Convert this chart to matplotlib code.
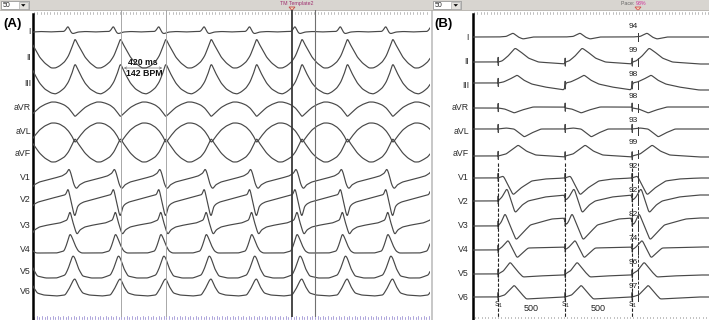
import numpy as np
import matplotlib
matplotlib.use('Agg')
import matplotlib.pyplot as plt
from matplotlib.patches import Rectangle, Polygon

plt.rcParams['font.family'] = ['Liberation Sans', 'DejaVu Sans']

# ---------------- data ----------------
leads = ['I', 'II', 'III', 'aVR', 'aVL', 'aVF', 'V1', 'V2', 'V3', 'V4', 'V5', 'V6']

# Panel A: VT, cycle length 420 ms (142 BPM); beat template times (ms from lead-II peak), amplitudes
cycle_A = 420
first_peak_A = 388
tA_I = [0, 30, 100, 180, 260, 320, 340, 355, 372, 392, 410]
aA_I = [-1, 0, 0.5, 0, 0.5, 0.5, 3, 6.5, 2, -1.5, -1.5]
tA_II = [0, 20, 46, 92, 140, 200, 240, 277, 323, 360, 397]
aA_II = [20, 15, 10, 1, -5, -10, -10, -8, -4, 2, 12]
tA_III = [0, 20, 46, 92, 140, 200, 240, 277, 323, 360, 397]
aA_III = [20, 15, 9, 0, -6, -10, -11, -9, -5, 1, 11]
tA_aVR = [0, 20, 46, 92, 140, 200, 240, 277, 323, 360, 397]
aA_aVR = [-10, -7.5, -5, -0.5, 2.5, 5, 5, 4, 2, -1, -6]
tA_aVL = [0, 20, 46, 92, 140, 200, 240, 277, 323, 360, 397]
aA_aVL = [-12, -9, -5, 1, 5, 8, 8, 7, 4, 0, -6]
tA_aVF = [0, 20, 46, 92, 140, 200, 240, 277, 323, 360, 397]
aA_aVF = [16, 12, 8, 1, -4, -8, -8, -6, -3, 2, 10]
tA_V1 = [0, 15, 40, 90, 200, 300, 345, 365, 385, 405]
aA_V1 = [-10, -12, -8, -5, -2, 1, 4, 9, 3, -6]
tA_V2 = [0, 20, 45, 80, 150, 250, 325, 340, 355, 385, 405]
aA_V2 = [-18, -7, -4, -2, 0, 3, 5, 6, 13, -2, -12]
tA_V3 = [0, 18, 45, 90, 170, 280, 350, 374, 395]
aA_V3 = [-4, -10, -5, -2, 0, 2, 5, 15, 5]
tA_V4 = [0, 30, 60, 150, 250, 320, 345, 374, 400]
aA_V4 = [4, -2, -4, -4, -4, -2, 5, 16, 10]
tA_V5 = [0, 30, 70, 150, 250, 330, 360, 400]
aA_V5 = [14, 4, -4, -6, -6, -3, 4, 17]
tA_V6 = [0, 30, 70, 130, 250, 330, 370, 400]
aA_V6 = [14, 6, -1, -3, -4, -3, 4, 11]

# Panel B: paced beats, S1 = 500 ms
spikes_B = [187, 687, 1187]
tB_I = [0, 60, 112, 150, 186, 260, 500]
aB_I = [0, 0.5, 4, 0, -2, 0, 0]
tB_II = [0, 30, 75, 127, 170, 225, 300, 400, 500]
aB_II = [0, 1, 6, 14, 10, 4, 0, -1, -2]
tB_III = [0, 40, 90, 142, 190, 250, 350, 500]
aB_III = [2, 3, 6, 10, 5, 1, -2, -5]
tB_aVR = [0, 50, 120, 180, 260, 500]
aB_aVR = [0, -1, -5, -2, 1, 1]
tB_aVL = [0, 60, 120, 195, 250, 320, 500]
aB_aVL = [2, 3, 2, -6, -2, 2, 2]
tB_aVF = [0, 60, 150, 210, 280, 500]
aB_aVF = [-2, 0, 9, 3, -1, -3]
tB_V1 = [0, 40, 112, 170, 250, 350, 500]
aB_V1 = [0, 2, -17, -10, -3, -1, 0]
tB_V2 = [0, 30, 67, 127, 180, 224, 350, 500]
aB_V2 = [0, 4, 13, -12, -4, 0, 4, 6]
tB_V3 = [0, 25, 52, 134, 190, 240, 400, 500]
aB_V3 = [0, 4, 13, -14, -6, 1, 7, 8]
tB_V4 = [0, 30, 75, 142, 190, 224, 500]
aB_V4 = [0, 3, 10, -8, -2, 2, 3]
tB_V5 = [0, 40, 90, 150, 186, 300, 500]
aB_V5 = [0, 3, 12, 2, -3, -2, -1]
tB_V6 = [0, 50, 120, 170, 210, 350, 500]
aB_V6 = [0, 2, 12, 4, -2, -1, 0]

match_pct = ['94', '99', '98', '98', '93', '99', '92', '92', '82', '74', '96', '97']
caliper_text = ['420 ms', '142 BPM']
s1_interval = '500'

# ---------------- layout ----------------
W, H = 709, 320
rows_A = [32, 58, 83, 107, 131, 154, 177, 200, 225, 249, 272, 292]
rows_B = [37, 62, 85, 108, 131, 154, 178, 201, 226, 250, 274, 297]
TRACE = '#484848'

fig = plt.figure(figsize=(W / 100, H / 100), dpi=100)
fig.patch.set_facecolor('white')
bg = fig.add_axes([0, 0, 1, 1])
bg.set_xlim(0, W)
bg.set_ylim(H, 0)
bg.axis('off')


def smooth(y, s):
    k = np.arange(-3 * s, 3 * s + 1)
    g = np.exp(-k ** 2 / (2.0 * s * s))
    g /= g.sum()
    return np.convolve(y, g, mode='same')


def px_axes(x0, x1, y0, y1, xlim):
    ax = fig.add_axes([x0 / W, 1 - y1 / H, (x1 - x0) / W, (y1 - y0) / H])
    ax.set_xlim(*xlim)
    ax.set_ylim(y1, y0)
    ax.axis('off')
    ax.patch.set_alpha(0)
    return ax

# ---------------- chrome ----------------
bg.add_patch(Rectangle((0, 0), W, 10, facecolor='#d8d5d0', edgecolor='none'))
bg.plot([0, W], [10, 10], color='#b0aca6', lw=0.6)
for bx in (0.5, 433):
    bg.add_patch(Rectangle((bx, 1), 28, 8.2, facecolor='white', edgecolor='#8a8a8a', lw=0.5))
    bg.add_patch(Rectangle((bx + 18, 1.6), 9.4, 7, facecolor='#e4e2de', edgecolor='#a0a0a0', lw=0.4))
    bg.add_patch(Polygon([[bx + 20.5, 4.2], [bx + 25, 4.2], [bx + 22.75, 6.6]], closed=True,
                         facecolor='black', edgecolor='none'))
    bg.text(bx + 2, 5.3, '50', fontsize=5, va='center', ha='left', color='#222')

# panel separator
bg.add_patch(Rectangle((430.5, 10), 2, H - 10, facecolor='#c8c8c8', edgecolor='none'))

# top rulers
for x in np.arange(34, 430, 3.3):
    bg.plot([x, x], [11.5, 14], color='#9a9a9a', lw=0.45)
for x in np.arange(474, 709, 3.3):
    bg.plot([x, x], [11.5, 14], color='#9a9a9a', lw=0.45)
# bottom rulers
for i, x in enumerate(np.arange(34, 430, 2.65)):
    bg.plot([x, x], [318.5, 315.5 if i % 2 else 316.5], color='#8c80cc', lw=0.5)
for x in np.arange(475, 709, 3.3):
    bg.plot([x, x], [316.5, 317.5], color='#9a9a9a', lw=0.5)

# main black axis lines
bg.plot([33, 33], [14, 318.5], color='black', lw=1.8)
bg.plot([473, 473], [14, 318.5], color='black', lw=1.8)

# markers at top
bg.text(297, 3.6, 'TM Template2', fontsize=3.8, color='#a03070', ha='center', va='center')
bg.add_patch(Polygon([[289, 7], [295, 7], [292, 10.5]], closed=True,
                     facecolor='#f6d8b8', edgecolor='#c04848', lw=0.6))
bg.text(636, 3.6, 'Pace: ', fontsize=3.8, color='#666', ha='right', va='center')
bg.text(636, 3.6, '93%', fontsize=3.8, color='#d0309a', ha='left', va='center')
bg.add_patch(Polygon([[635, 7], [641, 7], [638, 10.5]], closed=True,
                     facecolor='#f6d8b8', edgecolor='#d05050', lw=0.6))

bg.text(3, 24, '(A)', fontsize=9.5, fontweight='bold', ha='left', va='center', color='black')
bg.text(434, 24, '(B)', fontsize=9.5, fontweight='bold', ha='left', va='center', color='black')

for name, ya, yb in zip(leads, rows_A, rows_B):
    bg.text(31, ya, name, fontsize=6.3, ha='right', va='center', color='#2a2a2a')
    bg.text(469, yb, name, fontsize=6.3, ha='right', va='center', color='#2a2a2a')

# ---------------- panel A ----------------
msA = 420 / 45.4
axA = px_axes(33, 430, 10, 317, (0, 397 * msA))
tA = np.arange(-200, 397 * msA + 200, 1.0)
tmplA = [(tA_I, aA_I), (tA_II, aA_II), (tA_III, aA_III), (tA_aVR, aA_aVR), (tA_aVL, aA_aVL),
         (tA_aVF, aA_aVF), (tA_V1, aA_V1), (tA_V2, aA_V2), (tA_V3, aA_V3), (tA_V4, aA_V4),
         (tA_V5, aA_V5), (tA_V6, aA_V6)]
for (tt, aa), row in zip(tmplA, rows_A):
    ph = (tA - first_peak_A) % cycle_A
    y = np.interp(ph, tt, aa, period=cycle_A)
    y = smooth(y, 7)
    m = (tA >= 0) & (tA <= 397 * msA)
    axA.plot(tA[m], row - y[m], color=TRACE, lw=0.85)

for xp, c, lw in [(120.7, '#a8a8a8', 0.7), (165.7, '#a8a8a8', 0.7), (292, '#3a3a3a', 1.3),
                  (315, '#707070', 0.8)]:
    axA.axvline((xp - 33) * msA, color=c, lw=lw)

bg.annotate('', xy=(121, 68), xytext=(165, 68),
            arrowprops=dict(arrowstyle='<->', color='#777', lw=0.5, mutation_scale=4))
bg.text(143, 62.5, caliper_text[0], fontsize=6.3, fontweight='bold', ha='center', va='center',
        color='#111')
bg.text(144, 73, caliper_text[1], fontsize=6.3, fontweight='bold', ha='center', va='center',
        color='#111')

# ---------------- panel B ----------------
msB = 500 / 67.0
axB = px_axes(473, 709, 10, 317, (0, 236 * msB))
tB = np.arange(-100, 236 * msB + 100, 0.5)
sp = np.array(spikes_B, dtype=float)
idx = np.searchsorted(sp, tB, side='right') - 1
dt = np.where(idx >= 0, tB - sp[np.clip(idx, 0, None)], tB - sp[0])
tmplB = [(tB_I, aB_I), (tB_II, aB_II), (tB_III, aB_III), (tB_aVR, aB_aVR), (tB_aVL, aB_aVL),
         (tB_aVF, aB_aVF), (tB_V1, aB_V1), (tB_V2, aB_V2), (tB_V3, aB_V3), (tB_V4, aB_V4),
         (tB_V5, aB_V5), (tB_V6, aB_V6)]
for k, ((tt, aa), row) in enumerate(zip(tmplB, rows_B)):
    y = np.interp(dt, tt, aa)
    y = smooth(y, 12)
    if k > 0:
        spike = np.interp(dt, [0, 1.0, 2.0, 3.0, 4.0], [0, 4.5, -3.5, 0, 0], left=0, right=0)
        y = y + spike
    m = (tB >= 0) & (tB <= 236 * msB)
    axB.plot(tB[m], row - y[m], color=TRACE, lw=0.85)

for s in spikes_B:
    axB.plot([s, s], [163, 317], color='#222', lw=0.8, ls=(0, (3, 1.5)))
axB.plot([(638 - 473) * msB] * 2, [163, 300], color='#333', lw=0.7, ls=(0, (3, 1.5)))

for k, (row, pct) in enumerate(zip(rows_B, match_pct)):
    bg.plot([638, 638], [row - 4, row + 4], color='#333', lw=0.7)
    bg.text(633, row - 11, pct, fontsize=6, ha='center', va='center', color='#222')

xs1 = [473 + s / msB for s in spikes_B]
for x in xs1:
    bg.text(x + 1, 305, r'S$_\mathregular{1}$', fontsize=5, ha='center', va='center', color='#222')
for a, b in zip(xs1[:-1], xs1[1:]):
    bg.text((a + b) / 2, 308.5, s1_interval, fontsize=6.5, ha='center', va='center', color='#222')

fig.savefig('out.png', dpi=100, facecolor='white')
